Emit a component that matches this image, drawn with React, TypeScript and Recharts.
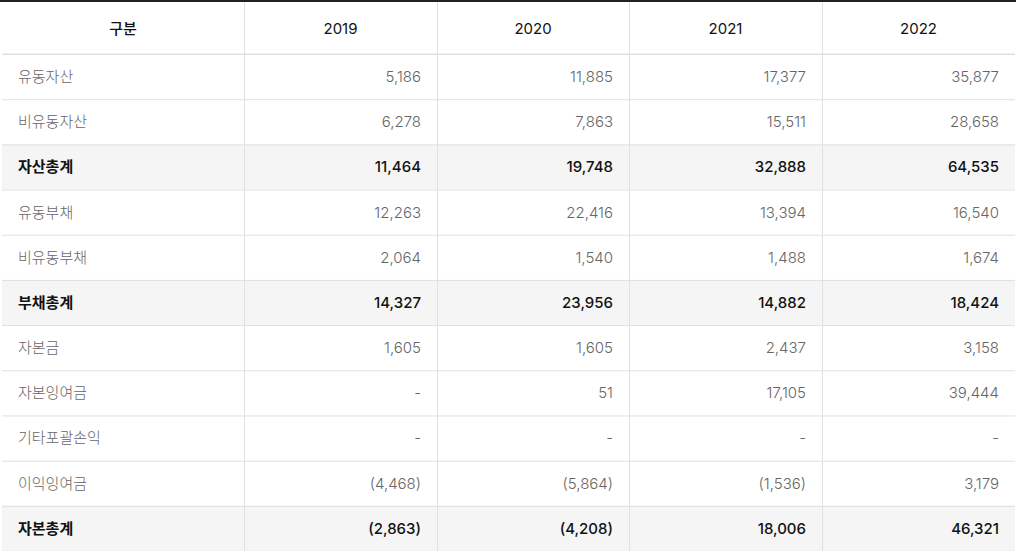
import { BarChart, Bar, XAxis, YAxis } from 'recharts';

const years = ['2019', '2020', '2021', '2022'];
const items = [
  '유동자산',
  '비유동자산',
  '자산총계',
  '유동부채',
  '비유동부채',
  '부채총계',
  '자본금',
  '자본잉여금',
  '기타포괄손익',
  '이익잉여금',
  '자본총계',
];
const totalItems = ['자산총계', '부채총계', '자본총계'];

// null = '-'
const v2019 = [5186, 6278, 11464, 12263, 2064, 14327, 1605, null, null, -4468, -2863];
const v2020 = [11885, 7863, 19748, 22416, 1540, 23956, 1605, 51, null, -5864, -4208];
const v2021 = [17377, 15511, 32888, 13394, 1488, 14882, 2437, 17105, null, -1536, 18006];
const v2022 = [35877, 28658, 64535, 16540, 1674, 18424, 3158, 39444, null, 3179, 46321];
const yearValues = [v2019, v2020, v2021, v2022];

// layout
const COL_W = [242, 193, 192, 193, 193];
const TOTAL_W = COL_W.reduce((a, b) => a + b, 0);
const HEADER_H = 52;
const FONT = "Inter, 'Noto Sans CJK KR', sans-serif";
const LINE = '#e0e0e0';

const fmt = (n: number | null) => {
  if (n === null) return '-';
  const s = Math.abs(n).toLocaleString('en-US');
  return n < 0 ? `(${s})` : s;
};

const rows = items.map((item, i) => {
  const row: any = { item, total: totalItems.includes(item) };
  COL_W.forEach((w, c) => (row[`c${c}`] = w));
  row.vals = yearValues.map((v) => v[i]);
  return row;
});

// header ticks: column centres (text) and column boundaries (lines)
const headers = ['구분', ...years];
const bounds: number[] = [];
const centres: number[] = [];
let acc = 0;
COL_W.forEach((w, i) => {
  centres.push(acc + w / 2);
  acc += w;
  if (i < COL_W.length - 1) bounds.push(acc);
});

const HeaderTick = (props: any) => {
  const { x, payload } = props;
  const ci = centres.indexOf(payload.value);
  if (ci < 0) {
    return <line x1={x + 0.5} x2={x + 0.5} y1={0} y2={HEADER_H} stroke={LINE} />;
  }
  return (
    <text
      x={x}
      y={HEADER_H / 2}
      textAnchor="middle"
      dominantBaseline="central"
      fontFamily={FONT}
      fontSize={15}
      fontWeight={ci === 0 ? 500 : 400}
      fill="#111"
    >
      {headers[ci]}
    </text>
  );
};

const makeCell = (col: number) => (props: any) => {
  const { x, y, width, height, payload, index } = props;
  const total = payload.total;
  const text = col === 0 ? payload.item : fmt(payload.vals[col - 1]);
  const last = index === items.length - 1;
  return (
    <g>
      <rect x={x} y={y} width={width} height={height} fill={total ? '#f5f5f5' : '#fff'} />
      <line x1={x} x2={x + width} y1={y + 0.5} y2={y + 0.5} stroke={LINE} />
      {last && <line x1={x} x2={x + width} y1={y + height + 0.5} y2={y + height + 0.5} stroke={LINE} />}
      {col > 0 && <line x1={x + 0.5} x2={x + 0.5} y1={y} y2={y + height} stroke={LINE} />}
      <text
        x={col === 0 ? x + 16 : x + width - 16}
        y={y + height / 2}
        textAnchor={col === 0 ? 'start' : 'end'}
        dominantBaseline="central"
        fontFamily={FONT}
        fontSize={15}
        fontWeight={total ? (col === 0 ? 700 : 500) : 300}
        fill={total ? '#111' : '#666'}
      >
        {text}
      </text>
    </g>
  );
};

export default function App() {
  return (
    <div style={{ position: 'absolute', left: 0, top: 0, width: 1016, borderTop: '2px solid #222' }}>
      <BarChart
        width={1016}
        height={549}
        data={rows}
        layout="vertical"
        margin={{ top: 0, right: 1, left: 2, bottom: 0 }}
        barCategoryGap={0}
        barGap={0}
      >
        <XAxis
          type="number"
          orientation="top"
          domain={[0, TOTAL_W]}
          allowDataOverflow
          ticks={[...centres, ...bounds]}
          interval={0}
          height={HEADER_H}
          tickLine={false}
          axisLine={{ stroke: LINE }}
          tick={<HeaderTick />}
        />
        <YAxis type="category" dataKey="item" hide />
        {COL_W.map((_w, c) => (
          <Bar
            key={c}
            dataKey={`c${c}`}
            stackId="t"
            isAnimationActive={false}
            shape={makeCell(c)}
          />
        ))}
      </BarChart>
    </div>
  );
}
